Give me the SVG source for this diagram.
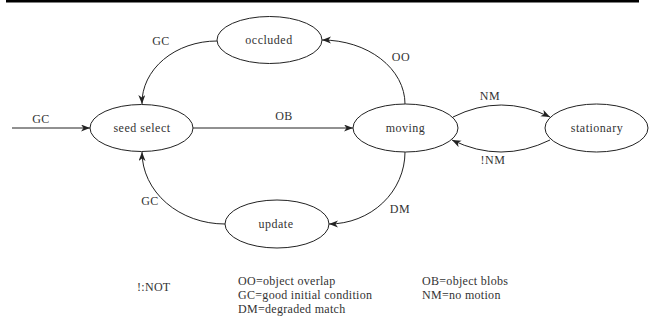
<svg xmlns="http://www.w3.org/2000/svg" width="660" height="323" viewBox="0 0 660 323">
<style>
.node ellipse{fill:#fff;stroke:#222;stroke-width:1}
text{font-family:"Liberation Serif","Times New Roman",serif;font-size:12px;fill:#333;letter-spacing:0.5px}
.c{text-anchor:middle}
.edge{fill:none;stroke:#222;stroke-width:1;marker-end:url(#arr)}
.leg{letter-spacing:0.3px}
</style>
<defs>
<marker id="arr" markerUnits="userSpaceOnUse" markerWidth="10" markerHeight="8" refX="9" refY="3.5" orient="auto">
<path d="M0,0 L9,3.5 L0,7 L2.5,3.5 z" fill="#222"/>
</marker>
</defs>
<rect x="6" y="0" width="633" height="2.5" fill="#000"/>
<g id="connectors">
<path class="edge" d="M12,128 L90,128"/>
<path class="edge" d="M193,128 L353,128"/>
<path class="edge" d="M217,41 A75,62 0 0 0 142,104"/>
<path class="edge" d="M405,104 A83,64 0 0 0 322,40"/>
<path class="edge" d="M405,152 A76,72 0 0 1 329,224"/>
<path class="edge" d="M225,224 A83,72 0 0 1 142,152"/>
<path class="edge" d="M453,117 Q501,93 550,117"/>
<path class="edge" d="M550,140 Q501,164 452,140"/>
<text class="c" x="41" y="123">GC</text>
<text class="c" x="284" y="120">OB</text>
<text class="c" x="161" y="45">GC</text>
<text class="c" x="401" y="61">OO</text>
<text class="c" x="490" y="100">NM</text>
<text class="c" x="493" y="164">!NM</text>
<text class="c" x="150" y="205">GC</text>
<text class="c" x="400" y="213">DM</text>
</g>
<g id="seed-select" class="node"><ellipse cx="141.5" cy="128" rx="51.5" ry="23.5"/><text class="c" x="142" y="132">seed select</text></g>
<g id="occluded" class="node"><ellipse cx="269.5" cy="40" rx="52.5" ry="23.5"/><text class="c" x="269" y="44">occluded</text></g>
<g id="moving" class="node"><ellipse cx="405.5" cy="128" rx="52.5" ry="24"/><text class="c" x="405.5" y="132">moving</text></g>
<g id="stationary" class="node"><ellipse cx="596.5" cy="128" rx="51.5" ry="24"/><text class="c" x="597" y="132">stationary</text></g>
<g id="update" class="node"><ellipse cx="277" cy="224" rx="52" ry="24"/><text class="c" x="276" y="228">update</text></g>
<g id="legend">
<text class="leg" x="137" y="291">!:NOT</text>
<text class="leg" x="238" y="285">OO=object overlap</text>
<text class="leg" x="238" y="299">GC=good initial condition</text>
<text class="leg" x="238" y="313">DM=degraded match</text>
<text class="leg" x="422" y="285">OB=object blobs</text>
<text class="leg" x="422" y="299">NM=no motion</text>
</g>
</svg>
